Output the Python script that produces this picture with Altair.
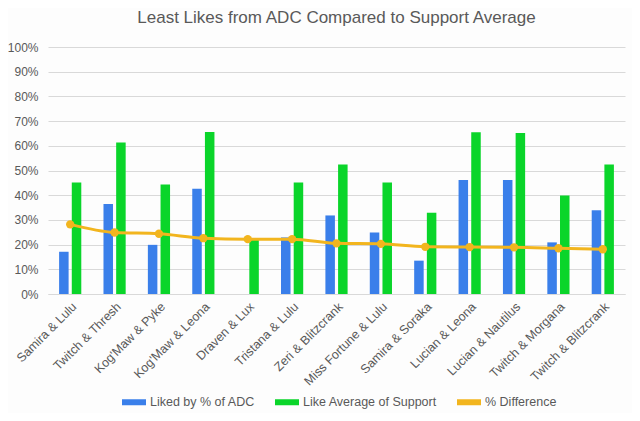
import altair as alt
import pandas as pd

pairs = ["Samira & Lulu", "Twitch & Thresh", "Kog'Maw & Pyke", "Kog'Maw & Leona",
         "Draven & Lux", "Tristana & Lulu", "Zeri & Blitzcrank", "Miss Fortune & Lulu",
         "Samira & Soraka", "Lucian & Leona", "Lucian & Nautilus", "Twitch & Morgana",
         "Twitch & Blitzcrank"]
liked_adc = [0.171, 0.364, 0.199, 0.426, 0.0, 0.229, 0.318, 0.249, 0.135, 0.462, 0.462, 0.209, 0.339]
like_support = [0.451, 0.613, 0.443, 0.656, 0.221, 0.451, 0.524, 0.451, 0.329, 0.655, 0.652, 0.399, 0.524]
difference = [0.282, 0.249, 0.244, 0.226, 0.222, 0.222, 0.205, 0.203, 0.191, 0.190, 0.189, 0.185, 0.181]
y_ticks = [0, 0.1, 0.2, 0.3, 0.4, 0.5, 0.6, 0.7, 0.8, 0.9, 1.0]

s1 = "Liked by % of ADC"
s2 = "Like Average of Support"
s3 = "% Difference"

bars = pd.DataFrame({
    "pair": pairs * 2,
    "series": [s1] * len(pairs) + [s2] * len(pairs),
    "value": liked_adc + like_support,
})
line = pd.DataFrame({"pair": pairs, "series": [s3] * len(pairs), "value": difference})

color = alt.Color(
    "series:N",
    scale=alt.Scale(domain=[s1, s2, s3], range=["#3A7FEA", "#0AD52A", "#F2B51E"]),
    legend=alt.Legend(
        title=None, orient="none", legendX=74, legendY=343, direction="horizontal",
        symbolType="M-1,-0.25H1V0.25H-1Z", symbolSize=576, symbolStrokeWidth=0,
        labelFontSize=12.5, labelColor="#595959", columnPadding=20, labelOffset=4,
    ),
)

xenc = alt.X(
    "pair:N", sort=pairs, title=None,
    scale=alt.Scale(paddingInner=0.5, paddingOuter=0.25),
    axis=alt.Axis(labelAngle=-45, labelFontSize=12.5, labelColor="#595959",
                  ticks=False, domainColor="#D9D9D9", labelPadding=6),
)
yenc = alt.Y(
    "value:Q", title=None,
    scale=alt.Scale(domain=[0, 1]),
    axis=alt.Axis(format="%", values=y_ticks, tickCount=12, labelFontSize=12,
                  labelColor="#595959", ticks=False, domain=False, labelOverlap=False,
                  gridColor="#D9D9D9", labelPadding=10),
)

bar_layer = alt.Chart(bars).mark_bar().encode(
    x=xenc,
    xOffset=alt.XOffset("series:N", sort=[s1, s2], scale=alt.Scale(paddingInner=0.25)),
    y=yenc,
    color=color,
)

line_layer = alt.Chart(line).mark_line(
    interpolate="monotone", strokeWidth=3,
    point=alt.OverlayMarkDef(filled=True, size=70, color="#F2B51E"),
).encode(
    x=xenc,
    y=yenc,
    color=color,
)

chart = alt.layer(bar_layer, line_layer).properties(
    width=577, height=247,
    autosize=alt.AutoSizeParams(type="none"),
    padding={"left": 40, "top": 39, "right": 7, "bottom": 119},
    title=alt.TitleParams("Least Likes from ADC Compared to Support Average",
                          fontSize=17, fontWeight="normal", color="#595959",
                          anchor="middle", offset=14),
    background="#FDFDFD",
).configure(font="Liberation Sans").configure_view(stroke=None)

chart.save("out.html", embed_options={"renderer": "svg", "actions": False})
